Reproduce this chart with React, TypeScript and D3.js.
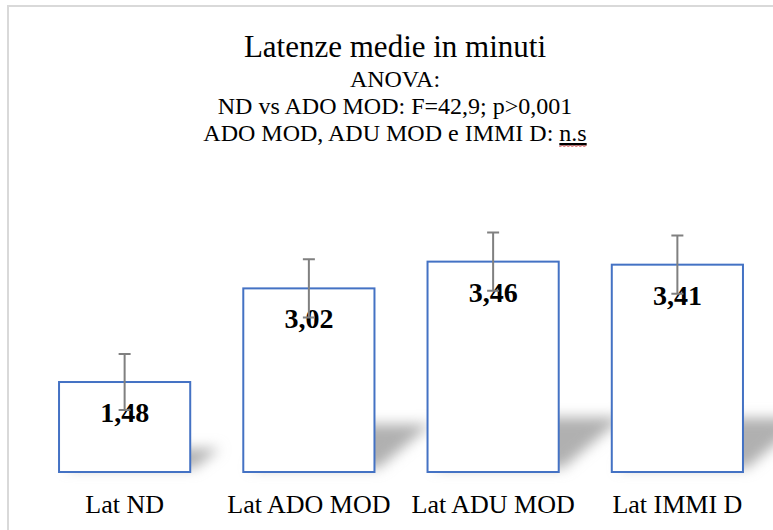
import React, { useEffect, useRef } from "react";
import * as d3 from "d3";

const categories = ["Lat ND", "Lat ADO MOD", "Lat ADU MOD", "Lat IMMI D"];
const values = [1.48, 3.02, 3.46, 3.41];
const errors = [0.46, 0.48, 0.48, 0.48];
const valueLabels = ["1,48", "3,02", "3,46", "3,41"];
const titleText = "Latenze medie in minuti";
const subtitleLines = ["ANOVA:", "ND vs ADO MOD: F=42,9; p>0,001"];
const lastLinePrefix = "ADO MOD, ADU MOD e IMMI D: ";
const lastLineSuffix = "n.s";

const W = 773;
const H = 530;
const FONT = "'Liberation Serif', 'Times New Roman', Times, serif";

export default function App() {
  const ref = useRef<SVGSVGElement | null>(null);

  useEffect(() => {
    const svg = d3.select(ref.current);
    svg.selectAll("*").remove();

    const defs = svg.append("defs");
    const blur = defs.append("filter").attr("id", "shblur")
      .attr("filterUnits", "userSpaceOnUse")
      .attr("x", 0).attr("y", 0).attr("width", W).attr("height", H);
    blur.append("feGaussianBlur").attr("stdDeviation", 6.5);

    svg.append("rect").attr("width", W).attr("height", H).attr("fill", "#ffffff");

    // frame
    svg.append("path").attr("d", `M8,${H} L8,6 L${W},6`).attr("fill", "none").attr("stroke", "#d9d9d9").attr("stroke-width", 2);

    const x = d3.scaleBand<string>().domain(categories).range([32.5, 769.5]).paddingInner(0.288).paddingOuter(0.144);
    const y = d3.scaleLinear().domain([0, 4]).range([472, 228.8]);
    const base = y(0);

    // shadows
    const sh = svg.append("g").attr("filter", "url(#shblur)");
    categories.forEach((c, i) => {
      const x0 = x(c)! + 6;
      const x1 = x(c)! + x.bandwidth();
      const h = base - y(values[i]);
      const dy = 0.26 * h;
      const dx = 1.1 * dy;
      sh.append("path")
        .attr("d", `M${x0},${base - 4} L${x1 + 4},${base - 4} L${x1 + 4 + dx},${base - dy} L${x0 + dx},${base - dy} Z`)
        .attr("fill", "#b0b0b0");
    });

    // bars
    svg.append("g").selectAll("rect").data(values).join("rect")
      .attr("x", (_, i) => x(categories[i])!)
      .attr("y", (d) => y(d))
      .attr("width", x.bandwidth())
      .attr("height", (d) => base - y(d))
      .attr("fill", "#ffffff")
      .attr("stroke", "#4472c4")
      .attr("stroke-width", 2);

    // value labels
    svg.append("g").selectAll("text").data(values).join("text")
      .attr("x", (_, i) => x(categories[i])! + x.bandwidth() / 2)
      .attr("y", (d) => y(d) + 40)
      .attr("text-anchor", "middle")
      .attr("font-family", FONT)
      .attr("font-weight", "bold")
      .attr("font-size", 28)
      .attr("fill", "#000")
      .text((_, i) => valueLabels[i]);

    // error bars
    const eg = svg.append("g").attr("stroke", "#808080").attr("stroke-width", 2).attr("fill", "none");
    categories.forEach((c, i) => {
      const cx = x(c)! + x.bandwidth() / 2;
      const yt = y(values[i] + errors[i]);
      const yb = y(values[i] - errors[i]);
      eg.append("path").attr("d", `M${cx},${yb} L${cx},${yt} M${cx - 6},${yt} L${cx + 6},${yt} M${cx - 6},${yb} L${cx + 6},${yb}`);
    });

    // category labels
    svg.append("g").selectAll("text").data(categories).join("text")
      .attr("x", (d) => x(d)! + x.bandwidth() / 2)
      .attr("y", 513)
      .attr("text-anchor", "middle")
      .attr("font-family", FONT)
      .attr("font-size", 26)
      .attr("fill", "#000")
      .text((d) => d);

    // titles
    const cxT = 395;
    svg.append("text").attr("x", cxT).attr("y", 57).attr("text-anchor", "middle")
      .attr("font-family", FONT).attr("font-size", 31).attr("fill", "#000").text(titleText);
    subtitleLines.forEach((t, i) => {
      svg.append("text").attr("x", cxT).attr("y", 87 + 27 * i).attr("text-anchor", "middle")
        .attr("font-family", FONT).attr("font-size", 24).attr("fill", "#000").text(t);
    });
    const last = svg.append("text").attr("x", cxT).attr("y", 141).attr("text-anchor", "middle")
      .attr("font-family", FONT).attr("font-size", 24).attr("fill", "#000");
    last.append("tspan").text(lastLinePrefix);
    const ns = last.append("tspan").text(lastLineSuffix).attr("text-decoration", "underline");
    const bb = (ns.node() as SVGTSpanElement).getBBox();
    const ux0 = bb.x;
    const ux1 = bb.x + bb.width;
    const uy = 146;
    let d = `M${ux0},${uy}`;
    for (let xx = ux0; xx < ux1; xx += 2) {
      d += ` L${xx + 1},${uy + ((Math.round((xx - ux0) / 2) % 2) ? -1 : 1)}`;
    }
    svg.append("path").attr("d", d).attr("fill", "none").attr("stroke", "#e04040").attr("stroke-width", 0.8);
  }, []);

  return (
    <svg
      ref={ref}
      width={W}
      height={H}
      style={{ position: "absolute", left: 0, top: 0, display: "block" }}
    />
  );
}
